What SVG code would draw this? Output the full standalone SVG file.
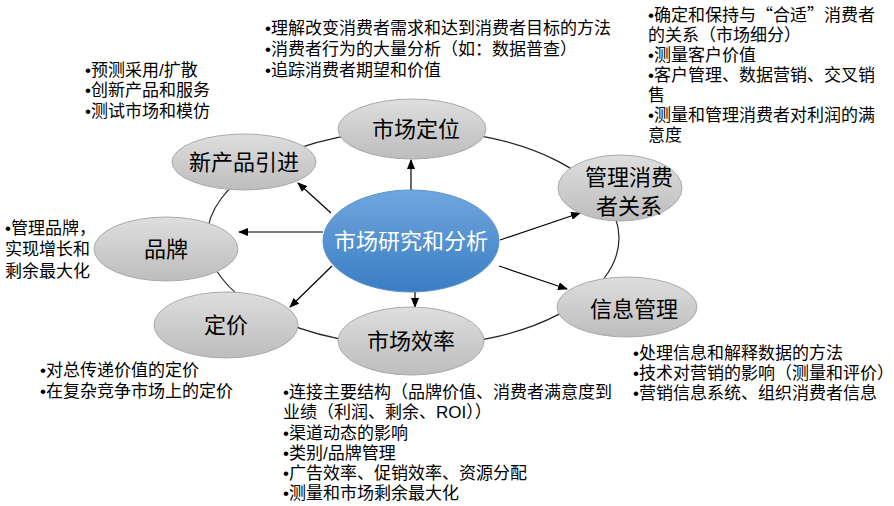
<svg xmlns="http://www.w3.org/2000/svg" width="894" height="506" viewBox="0 0 894 506">
<defs>
<linearGradient id="gray" x1="0" y1="0" x2="0" y2="1">
<stop offset="0" stop-color="#dedede"/>
<stop offset="1" stop-color="#bdbdbd"/>
</linearGradient>
<linearGradient id="blue" x1="0" y1="0" x2="0" y2="1">
<stop offset="0" stop-color="#6fa6de"/>
<stop offset="1" stop-color="#3a7ec3"/>
</linearGradient>
<marker id="arr" markerWidth="10" markerHeight="8" refX="9" refY="4" orient="auto" markerUnits="userSpaceOnUse">
<path d="M0,0 L10,4 L0,8 Z" fill="#000"/>
</marker>
<style>
.node{fill:url(#gray);stroke:#aaaaaa;stroke-width:1}
.lbl{font-family:"Liberation Sans","Noto Sans CJK SC",sans-serif;font-size:22px;fill:#000;text-anchor:middle}
.note{font-family:"Liberation Sans","Noto Sans CJK SC",sans-serif;font-size:17px;fill:#000}
.cjk{font-family:"Noto Sans CJK SC",sans-serif}
.conn{stroke:#000;stroke-width:1.2;fill:none;marker-end:url(#arr)}
</style>
</defs>
<rect width="894" height="506" fill="#fff"/>
<g id="ring">
<ellipse cx="413" cy="238" rx="206" ry="108" fill="none" stroke="#222" stroke-width="1.2"/>
</g>
<g id="connectors">
<line class="conn" x1="411" y1="190" x2="411" y2="160"/>
<line class="conn" x1="331" y1="213" x2="298" y2="183"/>
<line class="conn" x1="323" y1="232" x2="239" y2="232"/>
<line class="conn" x1="332" y1="266" x2="290" y2="307"/>
<line class="conn" x1="415" y1="292" x2="415" y2="307"/>
<line class="conn" x1="500" y1="240" x2="580" y2="213"/>
<line class="conn" x1="499" y1="266" x2="567" y2="289"/>
</g>
<g id="n-dingwei">
<ellipse class="node" cx="412" cy="129" rx="74" ry="30"/>
<text class="lbl" x="416" y="137">市场定位</text>
</g>
<g id="n-xinchanpin">
<ellipse class="node" cx="244" cy="162" rx="72" ry="28"/>
<text class="lbl" x="244" y="170">新产品引进</text>
</g>
<g id="n-guanli">
<ellipse class="node" cx="620" cy="188" rx="62" ry="33"/>
<text class="lbl" x="629" y="185">管理消费</text>
<text class="lbl" x="629" y="214">者关系</text>
</g>
<g id="n-pinpai">
<ellipse class="node" cx="166" cy="249" rx="72" ry="32"/>
<text class="lbl" x="166" y="257">品牌</text>
</g>
<g id="n-xinxi">
<ellipse class="node" cx="627" cy="307" rx="70" ry="30"/>
<text class="lbl" x="634" y="317">信息管理</text>
</g>
<g id="n-dingjia">
<ellipse class="node" cx="226" cy="325" rx="72" ry="33"/>
<text class="lbl" x="226" y="333">定价</text>
</g>
<g id="n-xiaolv">
<ellipse class="node" cx="411" cy="341" rx="73" ry="34"/>
<text class="lbl" x="411" y="349">市场效率</text>
</g>
<g id="n-center">
<ellipse cx="411" cy="241" rx="88" ry="51" fill="url(#blue)" stroke="#5a92cc" stroke-width="1"/>
<text class="lbl" x="411" y="249" style="fill:#fff">市场研究和分析</text>
</g>
<g id="notes">
<text class="note" x="265" y="34">•理解改变消费者需求和达到消费者目标的方法</text>
<text class="note" x="265" y="55">•消费者行为的大量分析（如：数据普查）</text>
<text class="note" x="265" y="76">•追踪消费者期望和价值</text>
<text class="note" x="85" y="76">•预测采用/扩散</text>
<text class="note" x="85" y="96">•创新产品和服务</text>
<text class="note" x="85" y="117">•测试市场和模仿</text>
<text class="note" x="648" y="21">•确定和保持与<tspan class="cjk">“</tspan>合适<tspan class="cjk">”</tspan>消费者</text>
<text class="note" x="648" y="41">的关系（市场细分）</text>
<text class="note" x="648" y="61">•测量客户价值</text>
<text class="note" x="648" y="81">•客户管理、数据营销、交叉销</text>
<text class="note" x="648" y="101">售</text>
<text class="note" x="648" y="121">•测量和管理消费者对利润的满</text>
<text class="note" x="648" y="141">意度</text>
<text class="note" x="5" y="234">•管理品牌，</text>
<text class="note" x="5" y="255">实现增长和</text>
<text class="note" x="5" y="277">剩余最大化</text>
<text class="note" x="40" y="376">•对总传递价值的定价</text>
<text class="note" x="40" y="397">•在复杂竞争市场上的定价</text>
<text class="note" x="633" y="359">•处理信息和解释数据的方法</text>
<text class="note" x="633" y="379">•技术对营销的影响（测量和评价）</text>
<text class="note" x="633" y="399">•营销信息系统、组织消费者信息</text>
<text class="note" x="283" y="398">•连接主要结构（品牌价值、消费者满意度到</text>
<text class="note" x="283" y="418">业绩（利润、剩余、ROI））</text>
<text class="note" x="283" y="439">•渠道动态的影响</text>
<text class="note" x="283" y="459">•类别/品牌管理</text>
<text class="note" x="283" y="479">•广告效率、促销效率、资源分配</text>
<text class="note" x="283" y="499">•测量和市场剩余最大化</text>
</g>
</svg>
